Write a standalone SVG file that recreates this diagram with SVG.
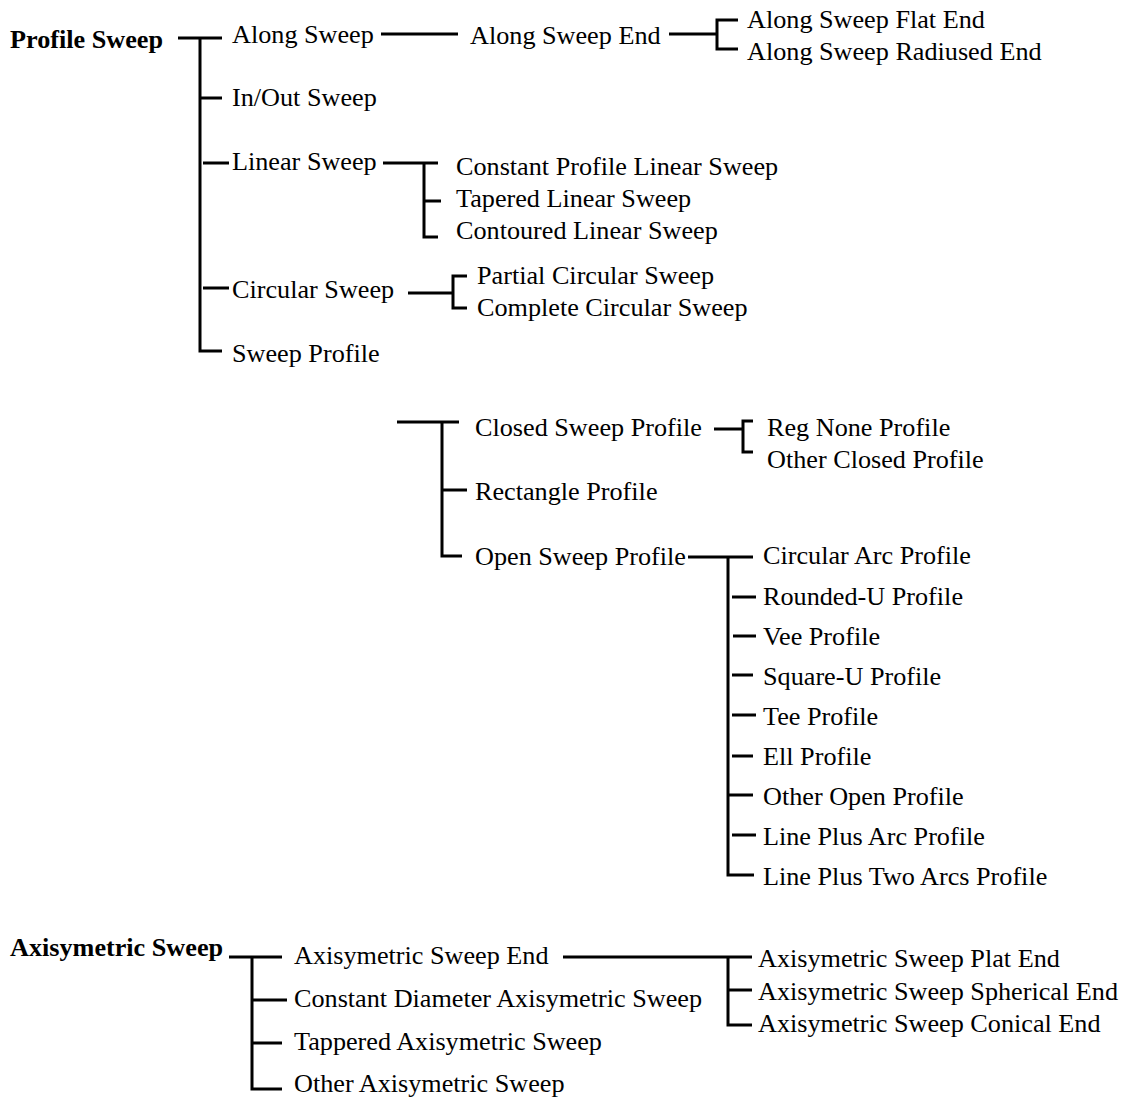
<svg xmlns="http://www.w3.org/2000/svg" width="1130" height="1100" viewBox="0 0 1130 1100">
<style>
text{font-family:"Liberation Serif","Times New Roman",serif;font-size:26.2px;fill:#000}
.root{font-weight:bold}
#connectors path{fill:none;stroke:#000;stroke-width:3}
</style>
<rect width="1130" height="1100" fill="#fff"/>
<g id="connectors">
<path d="M178 38H222M200 38V351H222M200 98H222M203 163H229M203 288H229"/>
<path d="M381 34H458M669 34H717M738 20H717V49H738"/>
<path d="M383 163H438M424 163V237H438M424 201H441"/>
<path d="M408 293H453M467 276H453V308H467"/>
<path d="M397 422H459M442 422V556H462M442 490H467"/>
<path d="M714 429H743M753 421H743V452H753"/>
<path d="M688 557H753M728 557V875H754M732 597H756M733 636H756M732 675H753M732 715H756M732 756H753M728 795H753M732 835H756"/>
<path d="M229 957H282M252 957V1089H282M253 1000H287M252 1043H282"/>
<path d="M563 957H752M728 957V1025H752M728 990H752"/>
</g>
<g id="profile-sweep"><text class="root" x="10" y="48">Profile Sweep</text></g>
<g id="along-sweep"><text x="232" y="43">Along Sweep</text></g>
<g id="along-sweep-end"><text x="470" y="44">Along Sweep End</text></g>
<g id="along-flat"><text x="747" y="28">Along Sweep Flat End</text></g>
<g id="along-radiused"><text x="747" y="60">Along Sweep Radiused End</text></g>
<g id="inout-sweep"><text x="232" y="106">In/Out Sweep</text></g>
<g id="linear-sweep"><text x="232" y="170">Linear Sweep</text></g>
<g id="constant-linear"><text x="456" y="175">Constant Profile Linear Sweep</text></g>
<g id="tapered-linear"><text x="456" y="207">Tapered Linear Sweep</text></g>
<g id="contoured-linear"><text x="456" y="239">Contoured Linear Sweep</text></g>
<g id="circular-sweep"><text x="232" y="298">Circular Sweep</text></g>
<g id="partial-circular"><text x="477" y="284">Partial Circular Sweep</text></g>
<g id="complete-circular"><text x="477" y="316">Complete Circular Sweep</text></g>
<g id="sweep-profile"><text x="232" y="362">Sweep Profile</text></g>
<g id="closed-sweep-profile"><text x="475" y="436">Closed Sweep Profile</text></g>
<g id="reg-none"><text x="767" y="436">Reg None Profile</text></g>
<g id="other-closed"><text x="767" y="468">Other Closed Profile</text></g>
<g id="rectangle-profile"><text x="475" y="500">Rectangle Profile</text></g>
<g id="open-sweep-profile"><text x="475" y="565">Open Sweep Profile</text></g>
<g id="circular-arc"><text x="763" y="564">Circular Arc Profile</text></g>
<g id="rounded-u"><text x="763" y="605">Rounded-U Profile</text></g>
<g id="vee"><text x="763" y="645">Vee Profile</text></g>
<g id="square-u"><text x="763" y="685">Square-U Profile</text></g>
<g id="tee"><text x="763" y="725">Tee Profile</text></g>
<g id="ell"><text x="763" y="765">Ell Profile</text></g>
<g id="other-open"><text x="763" y="805">Other Open Profile</text></g>
<g id="line-plus-arc"><text x="763" y="845">Line Plus Arc Profile</text></g>
<g id="line-plus-two-arcs"><text x="763" y="885">Line Plus Two Arcs Profile</text></g>
<g id="axisymetric-sweep"><text class="root" x="10" y="956">Axisymetric Sweep</text></g>
<g id="axi-end"><text x="294" y="964">Axisymetric Sweep End</text></g>
<g id="axi-constant"><text x="294" y="1007">Constant Diameter Axisymetric Sweep</text></g>
<g id="axi-tappered"><text x="294" y="1050">Tappered Axisymetric Sweep</text></g>
<g id="axi-other"><text x="294" y="1092">Other Axisymetric Sweep</text></g>
<g id="axi-plat"><text x="758" y="967">Axisymetric Sweep Plat End</text></g>
<g id="axi-spherical"><text x="758" y="1000">Axisymetric Sweep Spherical End</text></g>
<g id="axi-conical"><text x="758" y="1032">Axisymetric Sweep Conical End</text></g>
</svg>
